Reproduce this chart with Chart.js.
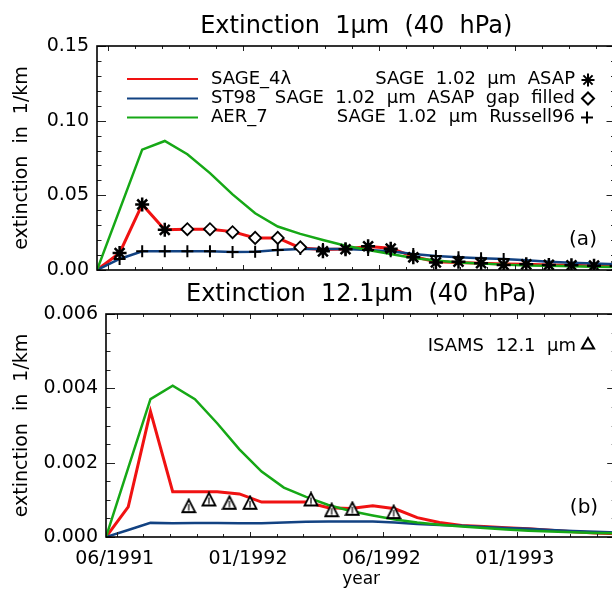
<!DOCTYPE html>
<html>
<head>
<meta charset="utf-8">
<script src="https://cdn.jsdelivr.net/npm/chart.js@4.4.0/dist/chart.umd.min.js"></script>
<style>
  html, body { margin: 0; padding: 0; background: #fff; overflow: hidden; }
  #wrap { position: relative; width: 612px; height: 594px; overflow: hidden; }
  canvas { position: absolute; left: 0; }
  #cA { top: 0; }
  #cB { top: 280px; }
</style>
</head>
<body>
<div id="wrap">
  <canvas id="cA" width="625" height="280" style="width:625px;height:280px"></canvas>
  <canvas id="cB" width="625" height="314" style="width:625px;height:314px"></canvas>
</div>
<script>
// months after the first post-eruption profile (mid June 1991)
const months = [0, 1, 2, 3, 4, 5, 6, 7, 8, 9, 10, 11, 12, 13, 14, 15, 16, 17, 18, 19, 20, 21, 22, 23];

// (a) extinction at 1 um, 40 hPa, 1/km
const sage4lA = [0, 0.0114, 0.0439, 0.0269, 0.0273, 0.0273, 0.0257, 0.0215, 0.0215, 0.0148, 0.0137, 0.0141,
    0.0157, 0.0146, 0.0090, 0.0056, 0.0051, 0.0045, 0.0040, 0.0038, 0.0034, 0.0031, 0.0027, 0.0024];
const st98A = [0, 0.0074, 0.0125, 0.0125, 0.0125, 0.0125, 0.0121, 0.0123, 0.0134, 0.0141, 0.0141, 0.0141,
    0.0134, 0.0125, 0.0107, 0.0094, 0.0085, 0.0078, 0.0074, 0.0065, 0.0056, 0.0049, 0.0043, 0.0038];
const aer7A = [0, 0.0403, 0.0806, 0.0864, 0.0775, 0.0649, 0.0506, 0.0380, 0.0291, 0.0242, 0.0201, 0.0163,
    0.0134, 0.0107, 0.0080, 0.0063, 0.0051, 0.0043, 0.0036, 0.0030, 0.0029, 0.0025, 0.0022, 0.0020];
const asapMonths = [1, 2, 3, 10, 11, 12, 13, 14, 15, 16, 17, 18, 19, 20, 21, 22, 23];
const asapA = [0.0114, 0.0439, 0.0269, 0.0125, 0.0139, 0.0159, 0.0143, 0.0085, 0.0051, 0.0056, 0.0045,
    0.0034, 0.0038, 0.0034, 0.0031, 0.0029, 0.0027];
const gapMonths = [4, 5, 6, 7, 8, 9];
const gapA = [0.0273, 0.0273, 0.0253, 0.0215, 0.0215, 0.0152];
const russellMonths = [1, 2, 3, 4, 5, 6, 7, 8, 9, 10, 11, 12, 13, 14, 15, 16, 17, 18];
const russellA = [0.0074, 0.0125, 0.0125, 0.0125, 0.0125, 0.0121, 0.0123, 0.0134, 0.0141, 0.0141, 0.0141,
    0.0134, 0.0125, 0.0107, 0.0094, 0.0085, 0.0078, 0.0074];

// (b) extinction at 12.1 um, 40 hPa, 1/km
const sage4lB = [0, 0.00081, 0.00338, 0.00122, 0.00122, 0.00122, 0.00116, 0.00094, 0.00094, 0.00094, 0.00079,
    0.00077, 0.00084, 0.00076, 0.00052, 0.00039, 0.00031, 0.00028, 0.00025, 0.00022, 0.00018, 0.00014, 0.00011, 0.00009];
const st98B = [0, 0.00019, 0.00038, 0.00037, 0.00038, 0.00038, 0.00037, 0.00037, 0.00039, 0.00041, 0.00042,
    0.00042, 0.00042, 0.00039, 0.00035, 0.00032, 0.00030, 0.00027, 0.00024, 0.00022, 0.00019, 0.00016, 0.00014, 0.00012];
const aer7B = [0, 0.00186, 0.00371, 0.00407, 0.00371, 0.00306, 0.00236, 0.00176, 0.00133, 0.00108, 0.00086,
    0.00070, 0.00058, 0.00047, 0.00039, 0.00033, 0.00028, 0.00024, 0.00020, 0.00017, 0.00015, 0.00013, 0.00011, 0.00010];
const isamsMonths = [3.72, 4.63, 5.55, 6.48, 9.22, 10.15, 11.08, 12.94];
const isamsB = [0.00083, 0.00101, 0.00092, 0.00092, 0.00101, 0.00072, 0.00076, 0.00067];

// axes
const xTickValues = [0.48, 6.48, 12.48, 18.48];
const xTickLabels = ['06/1991', '01/1992', '06/1992', '01/1993'];
const yTicksA = [0, 0.05, 0.10, 0.15];
const yLabelsA = ['0.00', '0.05', '0.10', '0.15'];
const yTicksB = [0, 0.002, 0.004, 0.006];
const yLabelsB = ['0.000', '0.002', '0.004', '0.006'];
const xMax = 22.95;

const RED = 'rgb(240,18,18)';
const BLUE = 'rgb(18,66,130)';
const GREEN = 'rgb(22,168,22)';
const FONT = "'DejaVu Sans', sans-serif";

Chart.defaults.font.family = FONT;
Chart.defaults.color = '#000';

const xy = (xs, ys) => xs.map((x, i) => ({x: x, y: ys[i]}));

function lineSet(label, xs, ys, color, width, order) {
    return {label, data: xy(xs, ys), borderColor: color, borderWidth: width,
        pointRadius: 0, tension: 0, order: order};
}

function markSet(label, xs, ys, style, radius, width) {
    return {label, data: xy(xs, ys), showLine: false, pointStyle: style, pointRadius: radius,
        pointBorderColor: '#000', pointBackgroundColor: '#fff', pointBorderWidth: width, order: 0};
}

function triangleMark() {
    let c = document.createElement('canvas');
    c.width = 16;
    c.height = 16;
    let g = c.getContext('2d');
    g.lineWidth = 1.8;
    g.strokeStyle = '#000';
    g.fillStyle = '#fff';
    g.beginPath();
    g.moveTo(8, 1.5);
    g.lineTo(14.5, 14);
    g.lineTo(1.5, 14);
    g.closePath();
    g.fill();
    g.stroke();
    g.lineWidth = 1.2;
    g.beginPath();
    g.moveTo(8, 6);
    g.lineTo(8, 12.5);
    g.stroke();
    return c;
}

// minor tick lists (major every 5th)
function steps(start, step, end) {
    let out = [];
    for (let i = 0; start + i * step <= end + 1e-9; i++) out.push(start + i * step);
    return out;
}

// IDL style box with inward ticks on all four sides
const frame = {
    id: 'frame',
    afterDatasetsDraw(chart, args, o) {
        const {ctx, chartArea: a} = chart;
        const x = chart.scales.x, y = chart.scales.y;
        ctx.save();
        ctx.strokeStyle = '#222';
        ctx.lineWidth = 1;
        ctx.beginPath();
        o.xMinor.forEach((v, i) => {
            let len = i % o.xEvery === 0 ? o.xLen[0] : o.xLen[1];
            let px = Math.round(x.getPixelForValue(v)) + 0.5;
            ctx.moveTo(px, a.bottom);
            ctx.lineTo(px, a.bottom - len);
            ctx.moveTo(px, a.top);
            ctx.lineTo(px, a.top + len);
        });
        o.yMinor.forEach((v, i) => {
            let len = i % o.yEvery === 0 ? o.yLen[0] : o.yLen[1];
            let py = Math.round(y.getPixelForValue(v)) + 0.5;
            ctx.moveTo(a.left, py);
            ctx.lineTo(a.left + len, py);
            ctx.moveTo(a.right, py);
            ctx.lineTo(a.right - len, py);
        });
        ctx.stroke();
        ctx.strokeStyle = '#000';
        ctx.lineWidth = 1.6;
        ctx.strokeRect(a.left, a.top, a.right - a.left, a.bottom - a.top);
        ctx.restore();
    }
};

// legend lines, labels and symbols written into the plot
const notes = {
    id: 'notes',
    afterDraw(chart, args, o) {
        const ctx = chart.ctx;
        ctx.save();
        (o.lines || []).forEach(l => {
            ctx.strokeStyle = l.color;
            ctx.lineWidth = 2;
            ctx.beginPath();
            ctx.moveTo(l.x0, l.y);
            ctx.lineTo(l.x1, l.y);
            ctx.stroke();
        });
        (o.texts || []).forEach(t => {
            ctx.font = t.size + 'px ' + FONT;
            ctx.fillStyle = '#000';
            ctx.textAlign = t.align || 'left';
            ctx.textBaseline = 'middle';
            ctx.fillText(t.text, t.x, t.y);
        });
        (o.symbols || []).forEach(s => {
            ctx.strokeStyle = '#000';
            ctx.fillStyle = '#fff';
            ctx.lineWidth = 2;
            Chart.helpers.drawPoint(ctx, {pointStyle: s.style, radius: s.r, borderWidth: 2, rotation: 0}, s.x, s.y);
        });
        ctx.restore();
    }
};

function panelOptions(p) {
    return {
        responsive: false,
        animation: false,
        devicePixelRatio: 1,
        layout: {padding: {left: 0, right: 2, top: 0, bottom: 0}},
        plugins: {
            legend: {display: false},
            tooltip: {enabled: false},
            title: {
                display: true, text: p.title, fullSize: false, color: '#000',
                font: {family: FONT, size: 24, weight: 'normal', lineHeight: 1.2},
                padding: {top: p.titleTop, bottom: 4.6}
            },
            frame: {
                xMinor: steps(xTickValues[0], 1.2, xMax), xEvery: 5, xLen: [5, 3],
                yMinor: p.yMinor, yEvery: p.yEvery, yLen: [9, 4.5]
            },
            notes: p.notes
        },
        scales: {
            x: {
                type: 'linear', min: 0, max: xMax,
                grid: {display: false, drawTicks: false},
                border: {display: false},
                afterBuildTicks: s => { s.ticks = xTickValues.map(v => ({value: v})); },
                afterFit: s => {
                    s.height = p.xHeight;
                    s.paddingLeft = 0;
                    s.paddingRight = 0;
                },
                ticks: {
                    display: p.showX, autoSkip: false, maxRotation: 0, padding: 11, labelOffset: -2,
                    font: {size: 19}, callback: (v, i) => xTickLabels[i]
                },
                title: {display: p.showX, text: 'year', font: {size: 17}, padding: {top: 0, bottom: 4}}
            },
            y: {
                min: 0, max: p.yTicks[p.yTicks.length - 1],
                grid: {display: false, drawTicks: false},
                border: {display: false},
                afterBuildTicks: s => { s.ticks = p.yTicks.map(v => ({value: v})); },
                afterFit: s => {
                    s.width = p.left;
                    s.paddingTop = 0;
                    s.paddingBottom = 0;
                },
                ticks: {padding: 8, font: {size: 19}, callback: (v, i) => p.yLabels[i]},
                title: {display: true, text: 'extinction  in  1/km', font: {size: 19}, padding: {top: 11, bottom: 0}}
            }
        }
    };
}

new Chart(document.getElementById('cA'), {
    type: 'line',
    data: {
        datasets: [
            markSet('SAGE 1.02 µm ASAP', asapMonths, asapA, 'star', 7, 2.5),
            markSet('SAGE 1.02 µm ASAP gap filled', gapMonths, gapA, 'rectRot', 6, 1.8),
            markSet('SAGE 1.02 µm Russell96', russellMonths, russellA, 'cross', 6, 2),
            lineSet('AER_7', months, aer7A, GREEN, 2.5, 1),
            lineSet('ST98', months, st98A, BLUE, 2.5, 2),
            lineSet('SAGE_4λ', months, sage4lA, RED, 3, 3)
        ]
    },
    plugins: [frame, notes],
    options: panelOptions({
        title: 'Extinction  1μm  (40  hPa)', titleTop: 12.6, left: 97, xHeight: 10, showX: false,
        yTicks: yTicksA, yLabels: yLabelsA, yMinor: steps(0, 0.01, 0.15), yEvery: 5,
        notes: {
            lines: [
                {x0: 127, x1: 198, y: 79, color: RED},
                {x0: 127, x1: 198, y: 98.5, color: BLUE},
                {x0: 127, x1: 198, y: 117.5, color: GREEN}
            ],
            texts: [
                {text: 'SAGE_4λ', x: 211, y: 79, size: 18},
                {text: 'ST98', x: 211, y: 98.5, size: 18},
                {text: 'AER_7', x: 211, y: 117.5, size: 18},
                {text: 'SAGE  1.02  μm  ASAP', x: 575, y: 79, size: 18, align: 'right'},
                {text: 'SAGE  1.02  μm  ASAP  gap  filled', x: 575, y: 98.5, size: 18, align: 'right'},
                {text: 'SAGE  1.02  μm  Russell96', x: 575, y: 117.5, size: 18, align: 'right'},
                {text: '(a)', x: 583, y: 240, size: 20, align: 'center'}
            ],
            symbols: [
                {style: 'star', r: 6.5, x: 588, y: 80},
                {style: 'rectRot', r: 6, x: 588, y: 98.5},
                {style: 'cross', r: 6, x: 587, y: 117.5}
            ]
        }
    })
});

new Chart(document.getElementById('cB'), {
    type: 'line',
    data: {
        datasets: [
            markSet('ISAMS 12.1 µm', isamsMonths, isamsB, triangleMark(), 7, 1.8),
            lineSet('AER_7', months, aer7B, GREEN, 2.5, 1),
            lineSet('ST98', months, st98B, BLUE, 2.5, 2),
            lineSet('SAGE_4λ', months, sage4lB, RED, 3, 3)
        ]
    },
    plugins: [frame, notes],
    options: panelOptions({
        title: 'Extinction  12.1μm  (40  hPa)', titleTop: 0.6, left: 106, xHeight: 57, showX: true,
        yTicks: yTicksB, yLabels: yLabelsB, yMinor: steps(0, 0.0005, 0.006), yEvery: 4,
        notes: {
            texts: [
                {text: 'ISAMS  12.1  μm', x: 576, y: 66, size: 18, align: 'right'},
                {text: '(b)', x: 584, y: 228, size: 20, align: 'center'}
            ],
            symbols: [
                {style: 'triangle', r: 7, x: 588, y: 65}
            ]
        }
    })
});
</script>
</body>
</html>
